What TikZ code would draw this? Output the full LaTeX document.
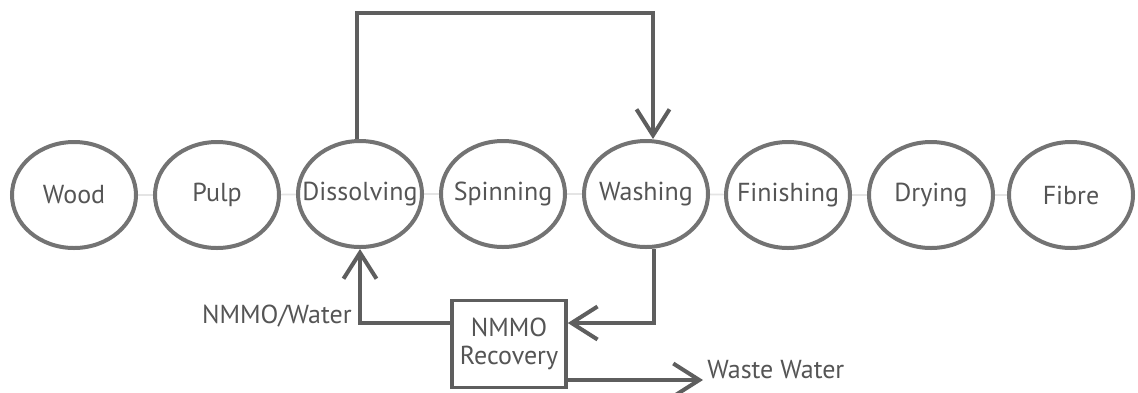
\documentclass[tikz,border=0pt]{standalone}
\usepackage{fontspec}
\setmainfont{PT Sans}
\usepackage{xcolor}
\usepackage{tikz}
\usetikzlibrary{arrows.meta}
\usetikzlibrary{shapes.geometric}
\usetikzlibrary{backgrounds}
\definecolor{flowgrey}{HTML}{5E5E5E}
\definecolor{ringgrey}{HTML}{737373}
\definecolor{textgrey}{HTML}{555555}
\definecolor{linkgrey}{HTML}{E4E4E4}
\tikzstyle{stage} = [ellipse, draw=ringgrey, fill=white, line width=2pt,
minimum width=62pt, minimum height=53pt, inner sep=0pt,
text=textgrey, font=\fontsize{13}{15}\selectfont]
\tikzstyle{recbox} = [rectangle, draw=flowgrey, fill=white, line width=1.8pt,
minimum width=57pt, minimum height=43.5pt, inner sep=1pt, align=center,
text=textgrey, font=\fontsize{13}{14}\selectfont]
\tikzstyle{link} = [draw=linkgrey, line width=0.8pt]
\tikzstyle{flow} = [draw=flowgrey, line width=2pt,
-{Straight Barb[length=13pt, width=16.5pt, line width=2pt]}]
\tikzstyle{tag} = [text=textgrey, font=\fontsize{13}{15}\selectfont, inner sep=2pt]

\begin{document}
\begin{tikzpicture}[x=0.5pt, y=-0.5pt]
        \useasboundingbox (0,0) rectangle (1138,392);
        % process chain
        \node [stage] (wood) at (74,195)  {\makebox[0pt]{Wood}};
        \node [stage] (pulp) at (217,195) {\makebox[0pt]{Pulp}};
        \node [stage] (diss) at (360,194) {\makebox[0pt]{Dissolving}};
        \node [stage] (spin) at (503,194) {\makebox[0pt]{Spinning}};
        \node [stage] (wash) at (646,194) {\makebox[0pt]{Washing}};
        \node [stage] (fini) at (788,195) {\makebox[0pt]{Finishing}};
        \node [stage] (dry)  at (931,195) {\makebox[0pt]{Drying}};
        \node [stage] (fibre) at (1071,195) {\makebox[0pt]{Fibre}};
        \begin{scope}[on background layer]
        \draw [link] (wood) -- (pulp);
        \draw [link] (pulp) -- (diss);
        \draw [link] (diss) -- (spin);
        \draw [link] (spin) -- (wash);
        \draw [link] (wash) -- (fini);
        \draw [link] (fini) -- (dry);
        \draw [link] (dry) -- (fibre);
        \end{scope}
        % solvent loop
        \node [recbox] (rec) at (509,344) {NMMO\\Recovery};
        \coordinate (top) at (357,13);
        \draw [flow] ([xshift=-1.5pt]diss.north) -- (top) -| ([xshift=3.5pt]wash.north);
        \draw [flow] ([xshift=4pt]wash.south) |- ([yshift=10.5pt]rec.east);
        \draw [flow] ([yshift=10.5pt]rec.west) -| (diss.south);
        \node [tag, anchor=east] (water) at (356,316) {NMMO/Water};
        \coordinate (waste) at (703,380);
        \draw [flow] (rec.east |- waste) -- (waste);
        \node [tag, anchor=west] (wastetag) at ([yshift=5pt]waste) {Waste Water};
    \end{tikzpicture}
\end{document}
